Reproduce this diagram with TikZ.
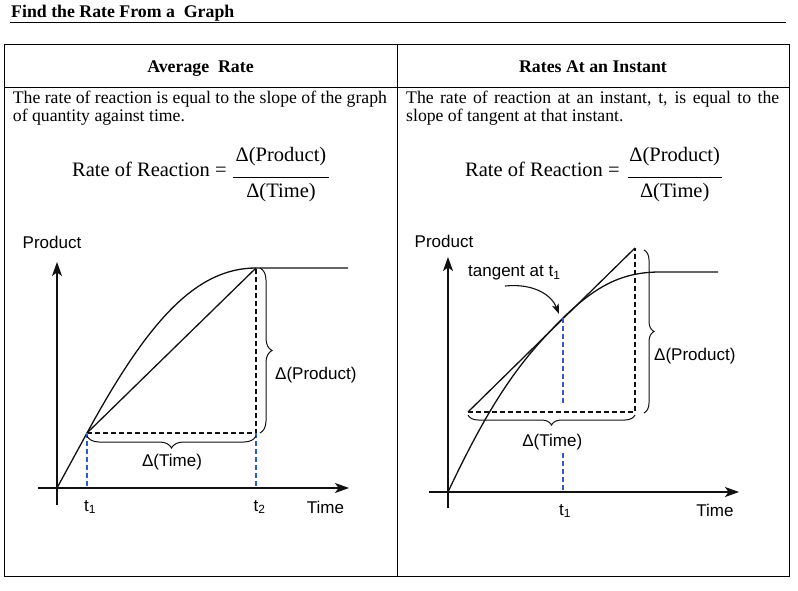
\documentclass[tikz,border=0pt]{standalone}
\usepackage{fontspec}
\setmainfont{Liberation Serif}
\newfontfamily\graphfont{Liberation Sans}
\usetikzlibrary{arrows.meta,decorations.pathreplacing}
\definecolor{rgInk}{HTML}{111111}
\definecolor{rgBlue}{HTML}{2E5BC4}
\newcommand{\rgsize}[1]{\fontsize{#1}{#1}\selectfont}
\tikzset{
  rg rule/.style={draw=black, line width=1pt},
  rg axis/.style={draw=rgInk, line width=1.3pt, -{Stealth[length=14pt, width=10pt, inset=3.5pt]}},
  rg curve/.style={draw=rgInk, line width=1.3pt, line join=round},
  rg guide/.style={draw=rgInk, line width=1.1pt, dash pattern=on 5pt off 3pt},
  rg drop/.style={draw=rgBlue, line width=1.1pt, dash pattern=on 5pt off 3pt},
  rg brace/.style={draw=rgInk, line width=1pt, decorate, decoration={brace, amplitude=#1}},
  rg brace/.default=12pt,
  rg pointer/.style={draw=rgInk, line width=1.1pt, -{Stealth[length=10pt, width=7pt, inset=2.5pt]}},
  rg head/.style={font=\rgsize{17.8}\bfseries, inner sep=0pt, anchor=base},
  rg text/.style={font=\rgsize{17.7}, inner sep=0pt, anchor=base west},
  rg formula/.style={font=\rgsize{20.5}, inner sep=0pt, anchor=base},
  rg label/.style={font=\graphfont\rgsize{17}, inner sep=0pt, anchor=base},
}

\begin{document}
\begin{tikzpicture}[x=1pt, y=-1pt]
  \useasboundingbox (0,0) rectangle (798,591);
  % Title and its rule
  \node[rg head, anchor=base west] (title) at (11,17.3) {Find the Rate From a\ \ Graph};
  \draw[rg rule] (10,22.5) -- (786,22.5);
  % Table frame
  \draw[rg rule] (4,45) rectangle (789,576);
  \draw[rg rule] (397,45) -- (397,576);
  \draw[rg rule] (4,88) -- (789,88);
  \node[rg head] (headL) at (200.5,72.5) {Average\ \ Rate};
  \node[rg head] (headR) at (593,72.5) {Rates At an Instant};
  % Cell texts
  \node[rg text] (textL1) at (12.7,104) {The rate of reaction is equal to the slope of the graph};
  \node[rg text] (textL2) at (12.7,121.7) {of quantity against time.};
  \node[rg text] (textR1) at (406,104) {\makebox[373pt][s]{The rate of reaction at an instant, t, is equal to the}};
  \node[rg text] (textR2) at (406,121.7) {slope of tangent at that instant.};
  % Formulas
  \node[rg formula, anchor=base west] (rateL) at (72,176.5) {Rate of Reaction =};
  \node[rg formula] (numL) at (281,161) {Δ(Product)};
  \node[rg formula] (denL) at (281,197) {Δ(Time)};
  \draw[rg rule] (233,177.5) -- (329,177.5);
  \node[rg formula, anchor=base west] (rateR) at (465,176.5) {Rate of Reaction =};
  \node[rg formula] (numR) at (674.7,161) {Δ(Product)};
  \node[rg formula] (denR) at (674.7,197) {Δ(Time)};
  \draw[rg rule] (628,177.5) -- (721.5,177.5);

  % Left graph: average rate between t1 and t2
  \coordinate (O1) at (57,488);
  \coordinate (A1) at (87,433);
  \coordinate (P1) at (256,268);
  \coordinate (Q1) at (256,433);
  \coordinate (E1) at (348,268);
  \coordinate (F1) at (87,488);
  \coordinate (G1) at (256,488);
  \draw[rg axis] (57,505) -- (57,262);
  \draw[rg axis] (38,488) -- (349,488);
  \draw[rg curve] (O1) -- (A1) .. controls (147,323) and (195,268) .. (P1) -- (E1);
  \draw[rg curve] (A1) -- (P1);
  \draw[rg guide] (A1) -- (Q1) -- (P1);
  \draw[rg drop] (A1) -- (F1);
  \draw[rg drop] (Q1) -- (G1);
  \draw[rg brace, decoration={mirror}] (87,436) -- (256,436);
  \draw[rg brace] (260,268) -- (260,433);
  \node[rg label] (prodL) at (52,248.3) {Product};
  \node[rg label] (dtimeL) at (172,466.7) {Δ(Time)};
  \node[rg label, anchor=base west] (dprodL) at (275,379) {Δ(Product)};
  \node[rg label] (t1L) at (90,511) {t\textsubscript{1}};
  \node[rg label] (t2L) at (259.5,511) {t\textsubscript{2}};
  \node[rg label] (timeL) at (325.5,513.3) {Time};

  % Right graph: tangent at t1
  \coordinate (O2) at (448,492);
  \coordinate (T2) at (563,318);
  \coordinate (L2) at (468,412);
  \coordinate (U2) at (635,248);
  \coordinate (R2) at (635,412);
  \coordinate (E2) at (718,272);
  \coordinate (K2) at (505,286);
  \coordinate (H2) at (559,314);
  \draw[rg axis] (448,508) -- (448,257);
  \draw[rg axis] (429,492) -- (739,492);
  \draw[rg curve] (O2) .. controls (495,392) and (525,356) .. (T2)
    .. controls (598,283.5) and (625,272) .. (660,272) -- (E2);
  \draw[rg curve] (L2) -- (U2);
  \draw[rg guide] (L2) -- (R2) -- (U2);
  \draw[rg drop] (T2) -- (563,404);
  \draw[rg drop] (563,453) -- (563,492);
  \draw[rg brace=10pt, decoration={mirror}] (468,415) -- (635,415);
  \draw[rg brace=10pt] (644,250) -- (644,413);
  \draw[rg pointer] (K2) .. controls (535,283) and (552,296) .. (H2);
  \node[rg label] (prodR) at (444,247) {Product};
  \node[rg label, anchor=base west] (tangR) at (468,276.7) {tangent at t\textsubscript{1}};
  \node[rg label] (dtimeR) at (552.3,446.7) {Δ(Time)};
  \node[rg label, anchor=base west] (dprodR) at (654,360) {Δ(Product)};
  \node[rg label] (t1R) at (565,515) {t\textsubscript{1}};
  \node[rg label] (timeR) at (715,516.7) {Time};
\end{tikzpicture}
\end{document}
